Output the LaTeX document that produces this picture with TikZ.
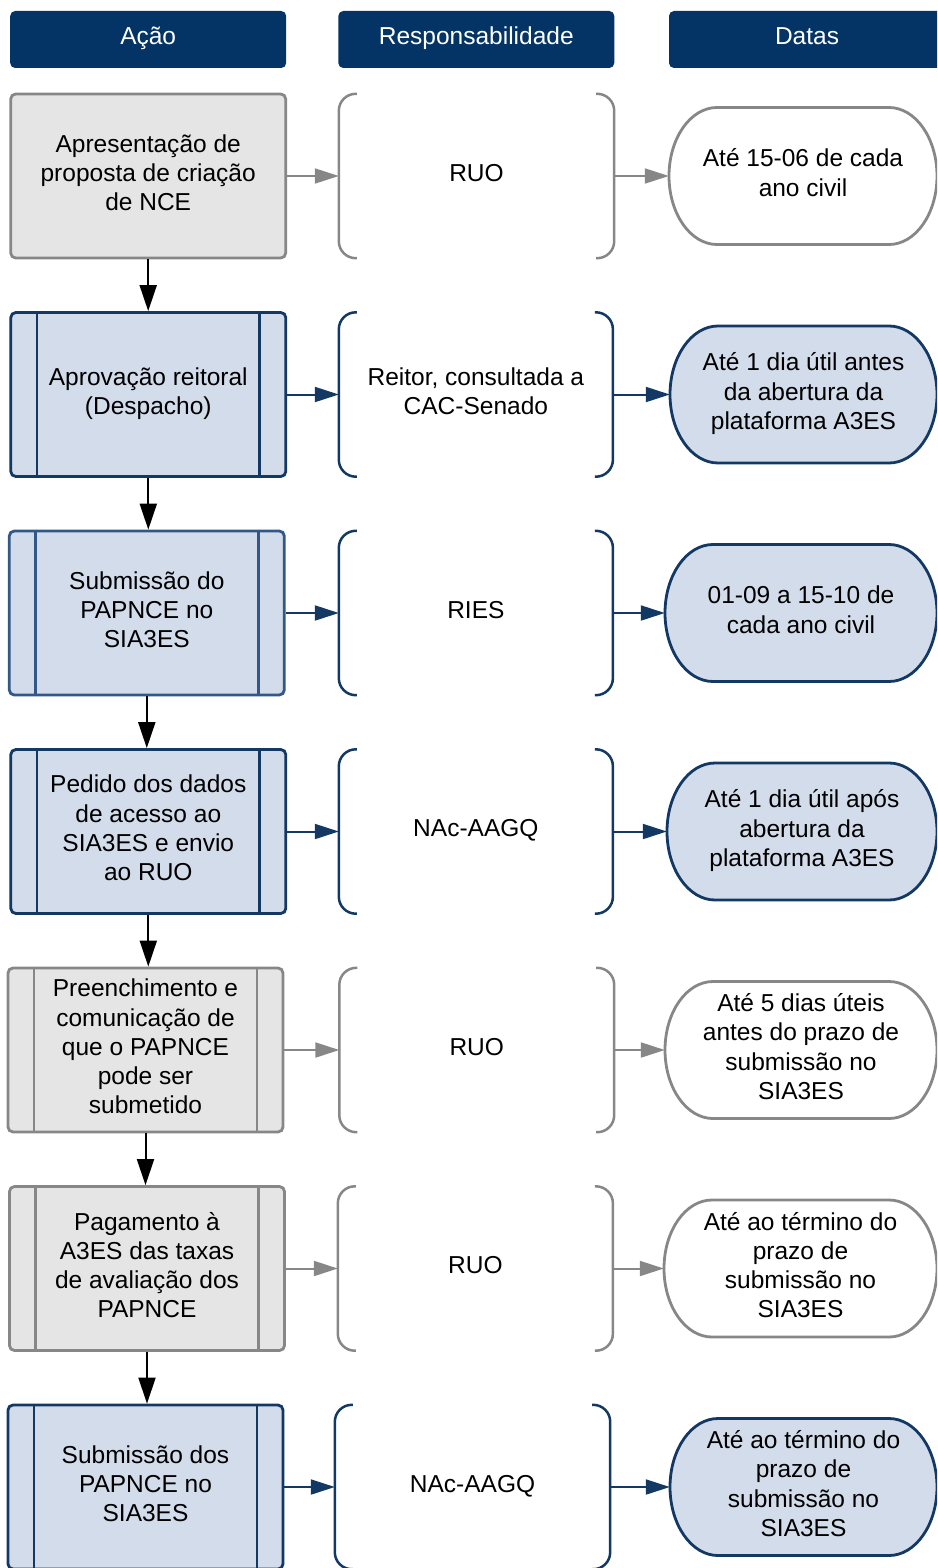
\documentclass[tikz,border=0pt]{standalone}
\usepackage{fontspec}
\setmainfont{Liberation Sans}
\usetikzlibrary{arrows.meta,calc}
\definecolor{navy}{RGB}{3,52,101}
\definecolor{navyline}{RGB}{18,56,99}
\definecolor{midblue}{RGB}{50,88,135}
\definecolor{bluefill}{RGB}{211,220,234}
\definecolor{grayfill}{RGB}{229,229,229}
\definecolor{grayline}{RGB}{135,135,135}
% stadium: style, left, right, top, bottom
\newcommand\stad[5]{%
 \draw[#1] ({#2+48},#4) -- ({#3-48},#4)
  .. controls ({#3-21.5},#4) and (#3,{(#4+#5)/2-37.8}) .. (#3,{(#4+#5)/2})
  .. controls (#3,{(#4+#5)/2+37.8}) and ({#3-21.5},#5) .. ({#3-48},#5)
  -- ({#2+48},#5)
  .. controls ({#2+21.5},#5) and (#2,{(#4+#5)/2+37.8}) .. (#2,{(#4+#5)/2})
  .. controls (#2,{(#4+#5)/2-37.8}) and ({#2+21.5},#4) .. ({#2+48},#4) -- cycle;}
% brackets around a responsibility node: style, node
\newcommand\brk[2]{%
 \draw[#1] ($(#2.north west)+(18,0)$) -- (#2.north west) -- (#2.south west) -- ($(#2.south west)+(18,0)$);
 \draw[#1] ($(#2.north east)+(-18,0)$) -- (#2.north east) -- (#2.south east) -- ($(#2.south east)+(-18,0)$);}
% inner lines of a process box: colour, node
\newcommand\inner[2]{%
 \draw[#1, line width=2.6pt] ($(#2.north west)+(27.5,0)$) -- ($(#2.south west)+(27.5,0)$);
 \draw[#1, line width=2.6pt] ($(#2.north east)+(-27.5,0)$) -- ($(#2.south east)+(-27.5,0)$);}
\begin{document}
\begin{tikzpicture}[x=1pt,y=-1pt,
  font=\fontsize{24.5}{29.3}\selectfont,
  hdr/.style={fill=navy, rounded corners=5pt, minimum width=276, minimum height=57, text=white, inner sep=0pt, text depth=7pt},
  act/.style={rounded corners=5pt, line width=2.8pt, minimum width=275, minimum height=164, align=center, inner sep=0pt, text depth=7pt},
  gact/.style={act, fill=grayfill, draw=grayline},
  bact/.style={act, fill=bluefill, draw=navyline},
  resp/.style={minimum height=164, align=center, inner sep=0pt, text depth=7pt},
  dat/.style={minimum height=137, align=center, inner sep=0pt, text depth=7pt},
  gbrk/.style={draw=grayline, line width=2.5pt, rounded corners=17pt},
  bbrk/.style={draw=navyline, line width=2.5pt, rounded corners=17pt},
  gstad/.style={draw=grayline, fill=white, line width=2.8pt},
  bstad/.style={draw=navyline, fill=bluefill, line width=2.8pt},
  garr/.style={draw=grayline, line width=2pt, -{Triangle[length=24pt,width=15pt]}},
  barr/.style={draw=navyline, line width=2pt, -{Triangle[length=24pt,width=15pt]}},
  varr/.style={draw=black, line width=2pt, -{Triangle[length=26pt,width=17pt]}}
]
\clip (0,0) rectangle (937,1568);

% headers
\node[hdr] (hA) at (148.2,39.5) {Ação};
\node[hdr] (hR) at (476.3,39.5) {Responsabilidade};
\node[hdr] (hD) at (807,39.5) {Datas};

% row 1
\node[gact] (a1) at (148.2,176) {Apresentação de\\proposta de criação\\de NCE};
\node[resp, minimum width=275] (r1) at (476.5,176) {RUO};
\brk{gbrk}{r1}
\stad{gstad}{669}{937}{107.5}{244.5}
\node[dat, minimum width=268] (d1) at (803,176) {Até 15-06 de cada\\ano civil};

% row 2
\node[bact] (a2) at (148.3,394.5) {Aprovação reitoral\\(Despacho)};
\inner{navyline}{a2}
\node[resp, minimum width=273.7] (r2) at (475.85,394.5) {Reitor, consultada a\\CAC-Senado};
\brk{bbrk}{r2}
\stad{bstad}{670}{937}{326}{463}
\node[dat, minimum width=267] (d2) at (803.5,394.5) {Até 1 dia útil antes\\da abertura da\\plataforma A3ES};

% row 3
\node[act, fill=bluefill, draw=midblue] (a3) at (146.8,613) {Submissão do\\PAPNCE no\\SIA3ES};
\inner{midblue}{a3}
\node[resp, minimum width=273.7] (r3) at (475.85,613) {RIES};
\brk{bbrk}{r3}
\stad{bstad}{665}{937}{544.5}{681.5}
\node[dat, minimum width=272] (d3) at (801,613) {01-09 a 15-10 de\\cada ano civil};

% row 4
\node[bact] (a4) at (148.3,831.5) {Pedido dos dados\\de acesso ao\\SIA3ES e envio\\ao RUO};
\inner{navyline}{a4}
\node[resp, minimum width=273.7] (r4) at (475.85,831.5) {NAc-AAGQ};
\brk{bbrk}{r4}
\stad{bstad}{667}{937}{763}{900}
\node[dat, minimum width=270] (d4) at (802,831.5) {Até 1 dia útil após\\abertura da\\plataforma A3ES};

% row 5
\node[gact] (a5) at (145.5,1050) {Preenchimento e\\comunicação de\\que o PAPNCE\\pode ser\\submetido};
\inner{grayline}{a5}
\node[resp, minimum width=274.5] (r5) at (476.75,1050) {RUO};
\brk{gbrk}{r5}
\stad{gstad}{665}{937}{981.5}{1118.5}
\node[dat, minimum width=272] (d5) at (801,1050) {Até 5 dias úteis\\antes do prazo de\\submissão no\\SIA3ES};

% row 6
\node[gact] (a6) at (147,1268.5) {Pagamento à\\A3ES das taxas\\de avaliação dos\\PAPNCE};
\inner{grayline}{a6}
\node[resp, minimum width=274.7] (r6) at (475.35,1268.5) {RUO};
\brk{gbrk}{r6}
\stad{gstad}{664}{937}{1200}{1337}
\node[dat, minimum width=273] (d6) at (800.5,1268.5) {Até ao término do\\prazo de\\submissão no\\SIA3ES};

% row 7
\node[bact] (a7) at (145.5,1487) {Submissão dos\\PAPNCE no\\SIA3ES};
\inner{navyline}{a7}
\node[resp, minimum width=275] (r7) at (472.5,1487) {NAc-AAGQ};
\brk{bbrk}{r7}
\stad{bstad}{670}{937}{1418.5}{1555.5}
\node[dat, minimum width=267] (d7) at (803.5,1487) {Até ao término do\\prazo de\\submissão no\\SIA3ES};

% horizontal connectors
\draw[garr] (a1.east) -- (r1.west);
\draw[garr] (r1.east) -- (d1.west);
\draw[barr] (a2.east) -- (r2.west);
\draw[barr] (r2.east) -- (d2.west);
\draw[barr] (a3.east) -- (r3.west);
\draw[barr] (r3.east) -- (d3.west);
\draw[barr] (a4.east) -- (r4.west);
\draw[barr] (r4.east) -- (d4.west);
\draw[garr] (a5.east) -- (r5.west);
\draw[garr] (r5.east) -- (d5.west);
\draw[garr] (a6.east) -- (r6.west);
\draw[garr] (r6.east) -- (d6.west);
\draw[barr] (a7.east) -- (r7.west);
\draw[barr] (r7.east) -- (d7.west);

% vertical connectors
\draw[varr] (a1.south) -- (a1.south |- a2.north);
\draw[varr] (a2.south) -- (a2.south |- a3.north);
\draw[varr] (a3.south) -- (a3.south |- a4.north);
\draw[varr] (a4.south) -- (a4.south |- a5.north);
\draw[varr] (a5.south) -- (a5.south |- a6.north);
\draw[varr] (a6.south) -- (a6.south |- a7.north);
\end{tikzpicture}
\end{document}
